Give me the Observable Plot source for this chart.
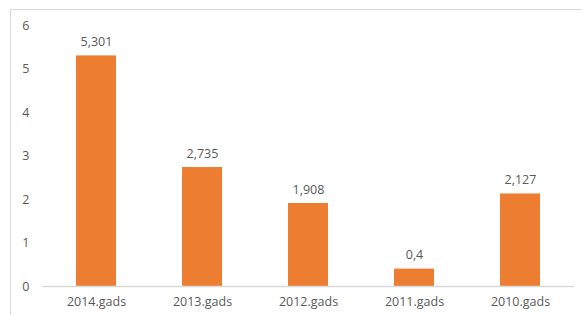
<!DOCTYPE html>
<html>
<head>
<meta charset="utf-8">
<script src="https://cdn.jsdelivr.net/npm/d3@7"></script>
<script src="https://cdn.jsdelivr.net/npm/@observablehq/plot@0.6"></script>
<style>
  html, body { margin: 0; padding: 0; background: #fff; }
  #wrap { position: relative; width: 582px; height: 315px; overflow: hidden; }
  #frame { position: absolute; left: 10px; top: 9px; width: 600px; height: 400px; border: 1.5px solid #d9d9d9; box-sizing: border-box; }
  #chart { position: absolute; left: 0; top: 0; }
</style>
</head>
<body>
<div id="wrap"><div id="frame"></div><div id="chart"></div></div>
<script>
const categories = ["2014.gads", "2013.gads", "2012.gads", "2011.gads", "2010.gads"];
const values = [5.301, 2.735, 1.908, 0.4, 2.127];
const yTicks = [0, 1, 2, 3, 4, 5, 6];

const data = categories.map((c, i) => ({category: c, value: values[i]}));
const fmt = v => String(v).replace(".", ",");

const chart = Plot.plot({
  width: 582,
  height: 315,
  marginLeft: 42,
  marginRight: 8,
  marginTop: 25,
  marginBottom: 29,
  style: {fontFamily: "'Open Sans', sans-serif", fontSize: "12.5px", color: "#595959", background: "transparent"},
  x: {domain: categories, paddingInner: 0.624, paddingOuter: 0.312, label: null, tickSize: 0, tickPadding: 11},
  y: {domain: [0, 6], ticks: yTicks, tickFormat: d => String(d), label: null, tickSize: 0, tickPadding: 13},
  marks: [
    Plot.barY(data, {x: "category", y: "value", fill: "#ED7D31"}),
    Plot.ruleY([0], {stroke: "#d9d9d9", strokeWidth: 1.5}),
    Plot.text(data, {x: "category", y: "value", text: d => fmt(d.value), dy: -14, fill: "#595959", fontSize: 12.5})
  ]
});
document.getElementById("chart").appendChild(chart);
</script>
</body>
</html>
